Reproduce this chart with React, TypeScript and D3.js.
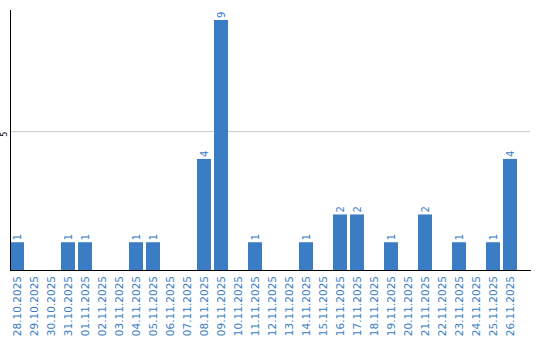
import React from "react";
import * as d3 from "d3";

const categories = [
  "28.10.2025","29.10.2025","30.10.2025","31.10.2025","01.11.2025","02.11.2025",
  "03.11.2025","04.11.2025","05.11.2025","06.11.2025","07.11.2025","08.11.2025",
  "09.11.2025","10.11.2025","11.11.2025","12.11.2025","13.11.2025","14.11.2025",
  "15.11.2025","16.11.2025","17.11.2025","18.11.2025","19.11.2025","20.11.2025",
  "21.11.2025","22.11.2025","23.11.2025","24.11.2025","25.11.2025","26.11.2025",
];
const values = [1,0,0,1,1,0,0,1,1,0,0,4,9,0,1,0,0,1,0,2,2,0,1,0,2,0,1,0,1,4];
const yTicks = [5];

const W = 540;
const H = 340;
const BLUE = "#3b7dc4";
const FONT = "'DejaVu Sans', Verdana, sans-serif";

export default function App() {
  const left = 10;
  const base = 270;
  const x = d3.scaleBand<string>().domain(categories).range([left, 517]).paddingInner(3 / 17).paddingOuter(0);
  const y = d3.scaleLinear().domain([0, 9]).range([base, 20]);
  return (
    <svg width={W} height={H} style={{ position: "absolute", left: 0, top: 0 }}>
      {yTicks.map((t) => (
        <g key={t}>
          <line x1={left} x2={530} y1={y(t) + 0.5} y2={y(t) + 0.5} stroke="#c8c8c8" strokeWidth={1} />
          <text transform={`translate(4,${y(t) + 3}) rotate(-90)`} textAnchor="middle" dy="0.35em" fontSize={8} fontFamily={FONT} fill="#000">{t}</text>
        </g>
      ))}
      {categories.map((c, i) => {
        const v = values[i];
        const cx = (x(c) as number) + x.bandwidth() / 2;
        return (
          <g key={c}>
            {v > 0 && (
              <>
                <rect x={x(c)} y={y(v)} width={x.bandwidth()} height={base - y(v)} fill={BLUE} />
                <text transform={`translate(${cx},${y(v) - 2}) rotate(-90)`} textAnchor="start" dy="0.35em" fontSize={10} fontFamily={FONT} fill={BLUE}>{v}</text>
              </>
            )}
            <text transform={`translate(${cx},${base + 6}) rotate(-90)`} textAnchor="end" dy="0.35em" fontSize={10.5} fontFamily={FONT} fill={BLUE}>{c}</text>
          </g>
        );
      })}
      <line x1={left + 0.5} x2={left + 0.5} y1={10} y2={base} stroke="#000" strokeWidth={1} />
      <line x1={left} x2={531} y1={base + 0.5} y2={base + 0.5} stroke="#000" strokeWidth={1} />
    </svg>
  );
}
